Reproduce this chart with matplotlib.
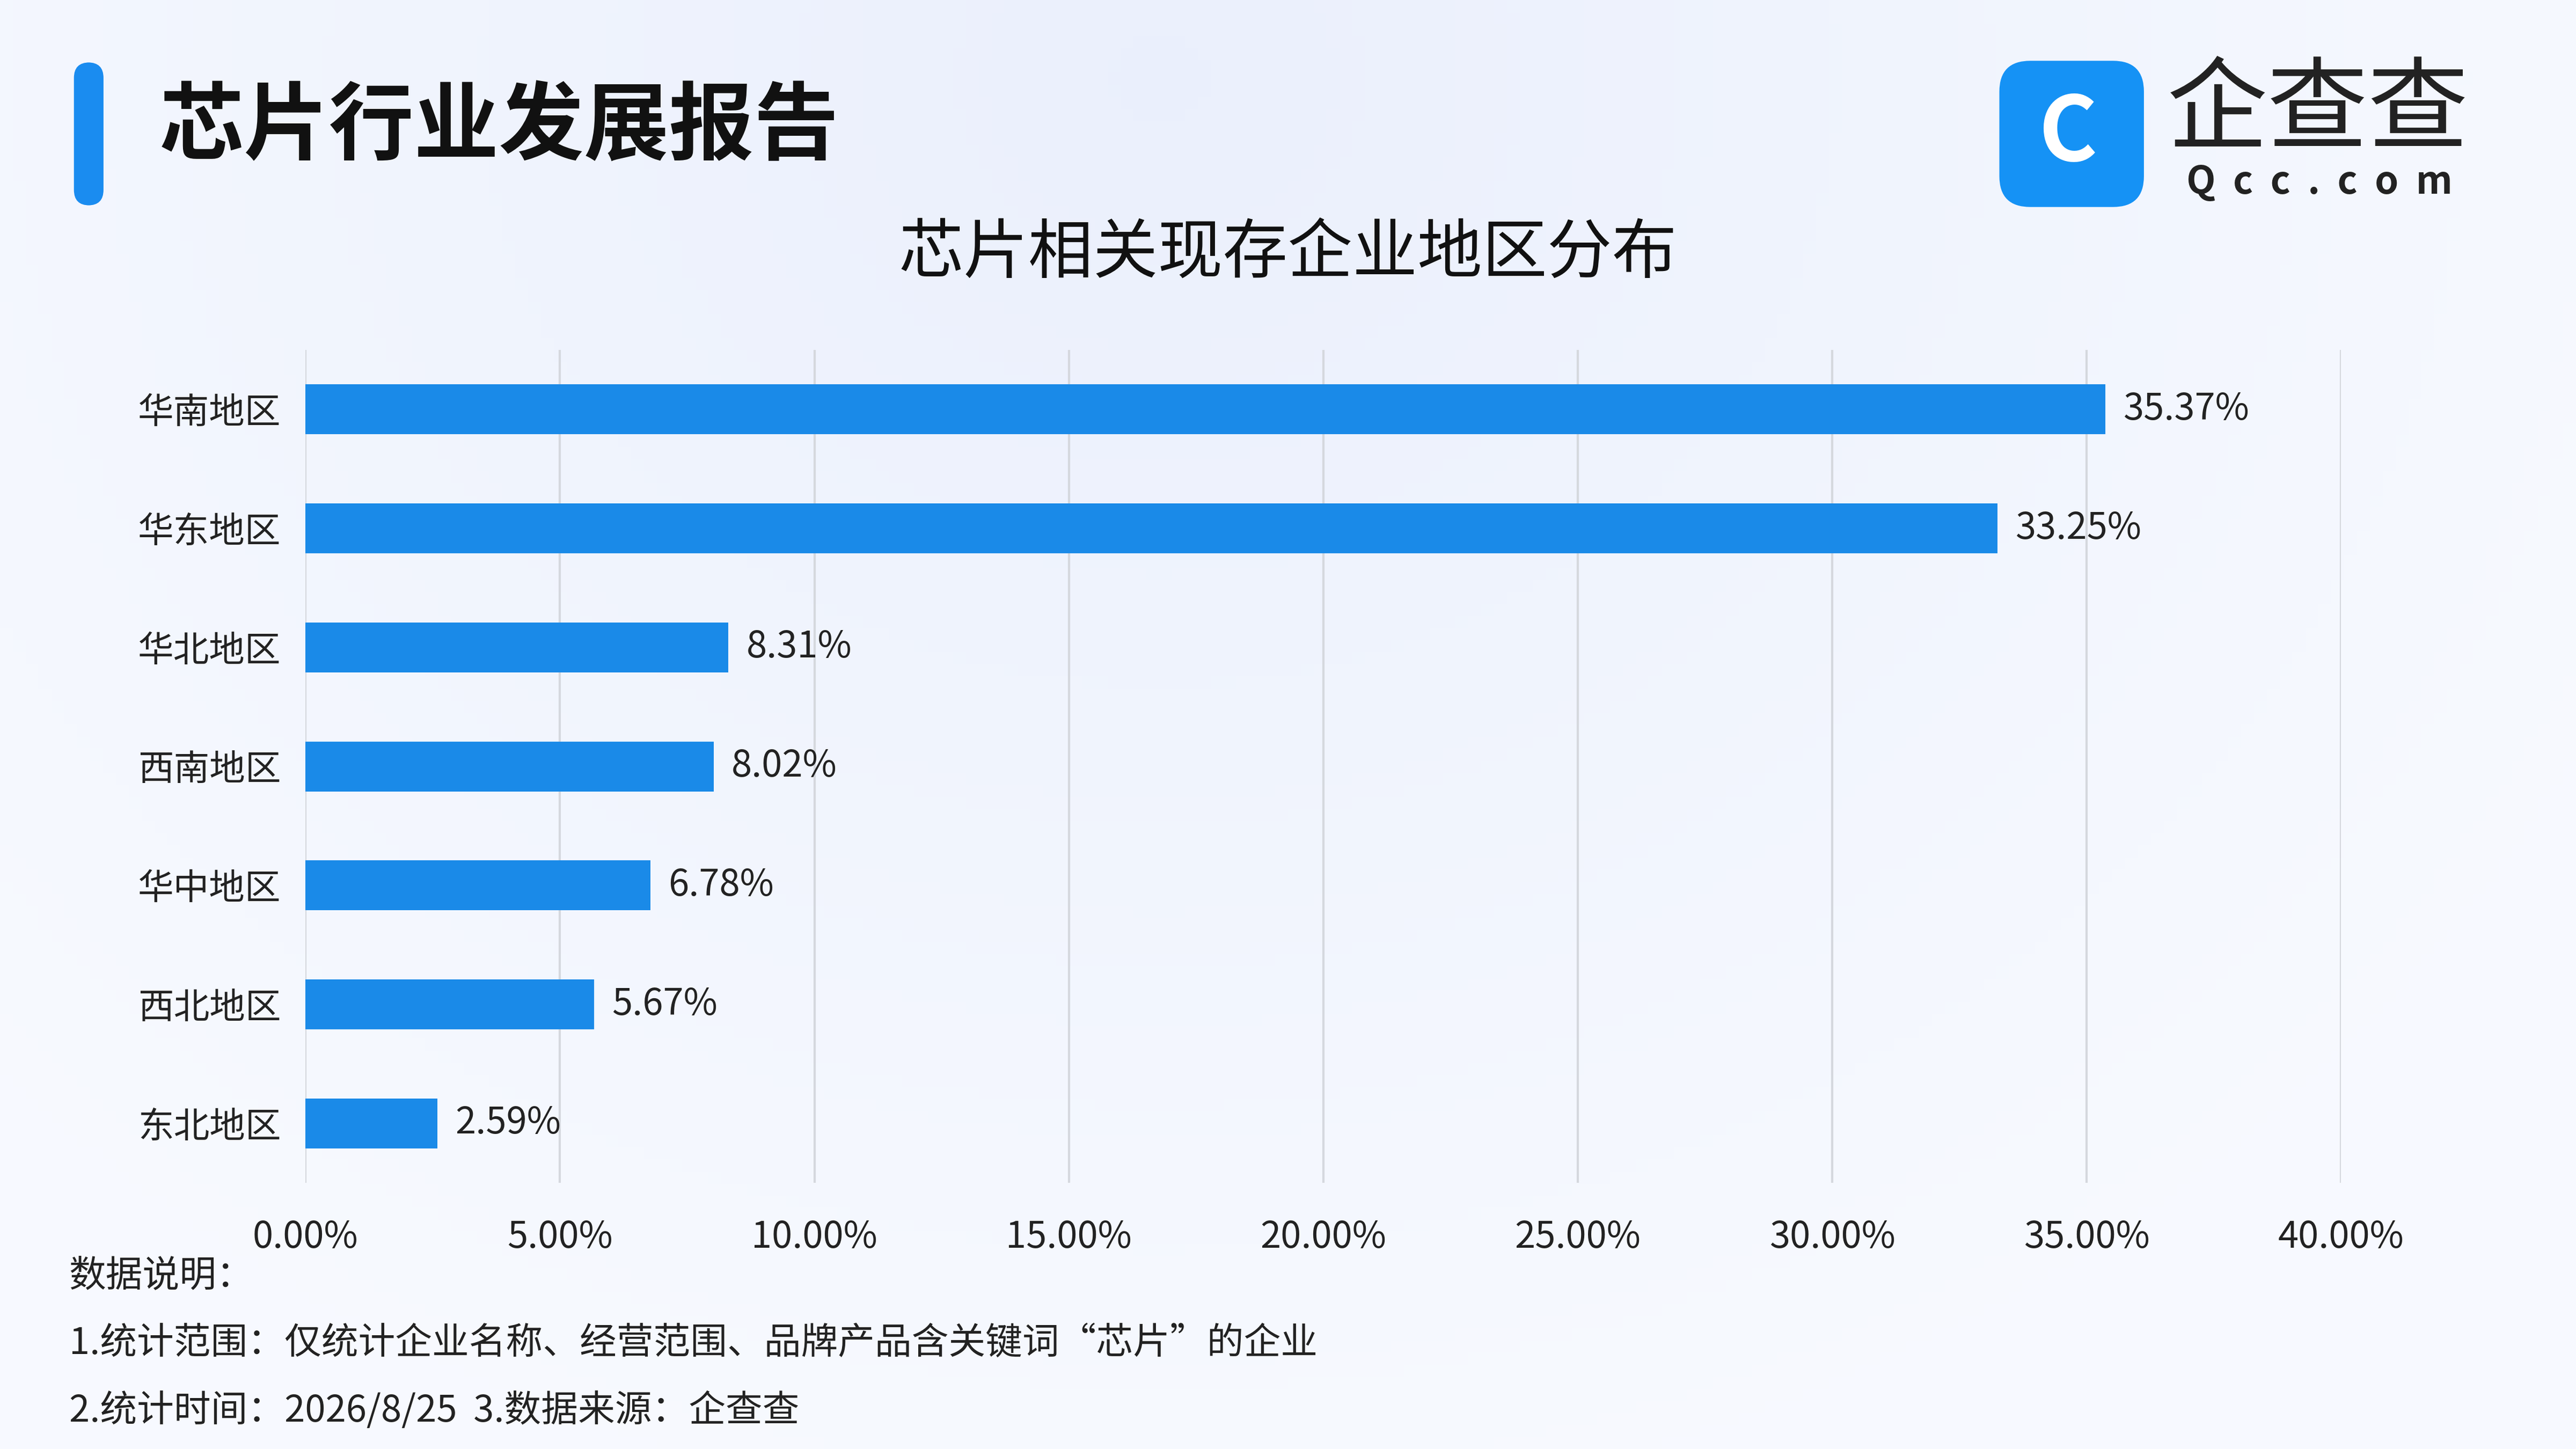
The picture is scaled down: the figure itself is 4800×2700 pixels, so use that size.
import numpy as np
import matplotlib.pyplot as plt
from matplotlib.patches import FancyBboxPatch

plt.rcParams['font.family'] = ['Noto Sans CJK SC', 'DejaVu Sans']

# data
regions = ['华南地区', '华东地区', '华北地区', '西南地区', '华中地区', '西北地区', '东北地区']
shares = [35.37, 33.25, 8.31, 8.02, 6.78, 5.67, 2.59]
xticks = [0, 5, 10, 15, 20, 25, 30, 35, 40]

W, H = 1568, 882
fig = plt.figure(figsize=(16, 9), dpi=300)

# background
bg = fig.add_axes([0, 0, 1, 1], zorder=-10)
gx, gy = np.meshgrid(np.linspace(0, 1, 200), np.linspace(0, 1, 120))
r = np.sqrt(((gx - 0.45) * 1.6) ** 2 + ((gy - 0.95) * 1.0) ** 2)
img = np.clip(r, 0, 1)
c1 = np.array([0.92, 0.94, 0.99])
c2 = np.array([0.97, 0.98, 1.0])
bg.imshow(c1 + (c2 - c1) * img[..., None], extent=[0, 1, 0, 1], aspect='auto', origin='lower')
bg.axis('off')
bg.set_xlim(0, 1)
bg.set_ylim(0, 1)

def fx(px):
    return px / W

def fy(py):
    return 1 - py / H

# header accent bar
bg.add_patch(FancyBboxPatch((fx(45), fy(125)), fx(18), fy(38) - fy(125),
                            boxstyle='round,pad=0,rounding_size=0.006',
                            fc='#1a8cf0', ec='none', mutation_aspect=16 / 9))
fig.text(fx(97), fy(78), '芯片行业发展报告', fontsize=38, fontweight='bold',
         color='#111111', va='center', ha='left')

# logo
bg.add_patch(FancyBboxPatch((fx(1217), fy(126)), fx(88), fy(37) - fy(126),
                            boxstyle='round,pad=0,rounding_size=0.012',
                            fc='#1592f5', ec='none', mutation_aspect=16 / 9))
fig.text(fx(1259), fy(82), 'C', fontsize=40, fontweight='bold', color='white',
         ha='center', va='center')
fig.text(fx(1411), fy(68), '企查查', fontsize=45, fontweight='medium', color='#222222',
         ha='center', va='center')
fig.text(fx(1412), fy(111), 'Q  c  c  .  c  o  m', fontsize=17, fontweight='bold',
         color='#222222', ha='center', va='center')

fig.text(0.5, fy(155), '芯片相关现存企业地区分布', fontsize=29, color='#111111',
         ha='center', va='center')

# chart
ax = fig.add_axes([fx(186), fy(720), fx(1425) - fx(186), fy(213) - fy(720)])
ax.patch.set_alpha(0)
y = np.arange(len(regions))
ax.barh(y, shares, height=0.42, color='#1a8ae8', zorder=3)
for yi, v in zip(y, shares):
    ax.text(v + 0.35, yi, f'{v:.2f}%', va='center', ha='left', fontsize=16.5, color='#222222')
ax.set_yticks(y)
ax.set_yticklabels(regions, fontsize=16, color='#222222')
ax.set_ylim(len(regions) - 0.5, -0.5)
ax.set_xlim(0, 40)
ax.set_xticks(xticks)
ax.set_xticklabels([f'{t:.2f}%' for t in xticks], fontsize=16.5, color='#222222')
ax.tick_params(length=0, pad=16)
ax.tick_params(axis='y', pad=11)
ax.grid(axis='x', color='#d5d8de', linewidth=1, zorder=0)
for s in ax.spines.values():
    s.set_visible(False)

# notes
fig.text(fx(42), fy(777), '数据说明：', fontsize=16.5, color='#222222', va='center')
fig.text(fx(42), fy(818), '1.统计范围：仅统计企业名称、经营范围、品牌产品含关键词“芯片”的企业',
         fontsize=16.5, color='#222222', va='center')
fig.text(fx(42), fy(859), '2.统计时间：2026/8/25  3.数据来源：企查查',
         fontsize=16.5, color='#222222', va='center')

fig.savefig('out.png', dpi=300)
